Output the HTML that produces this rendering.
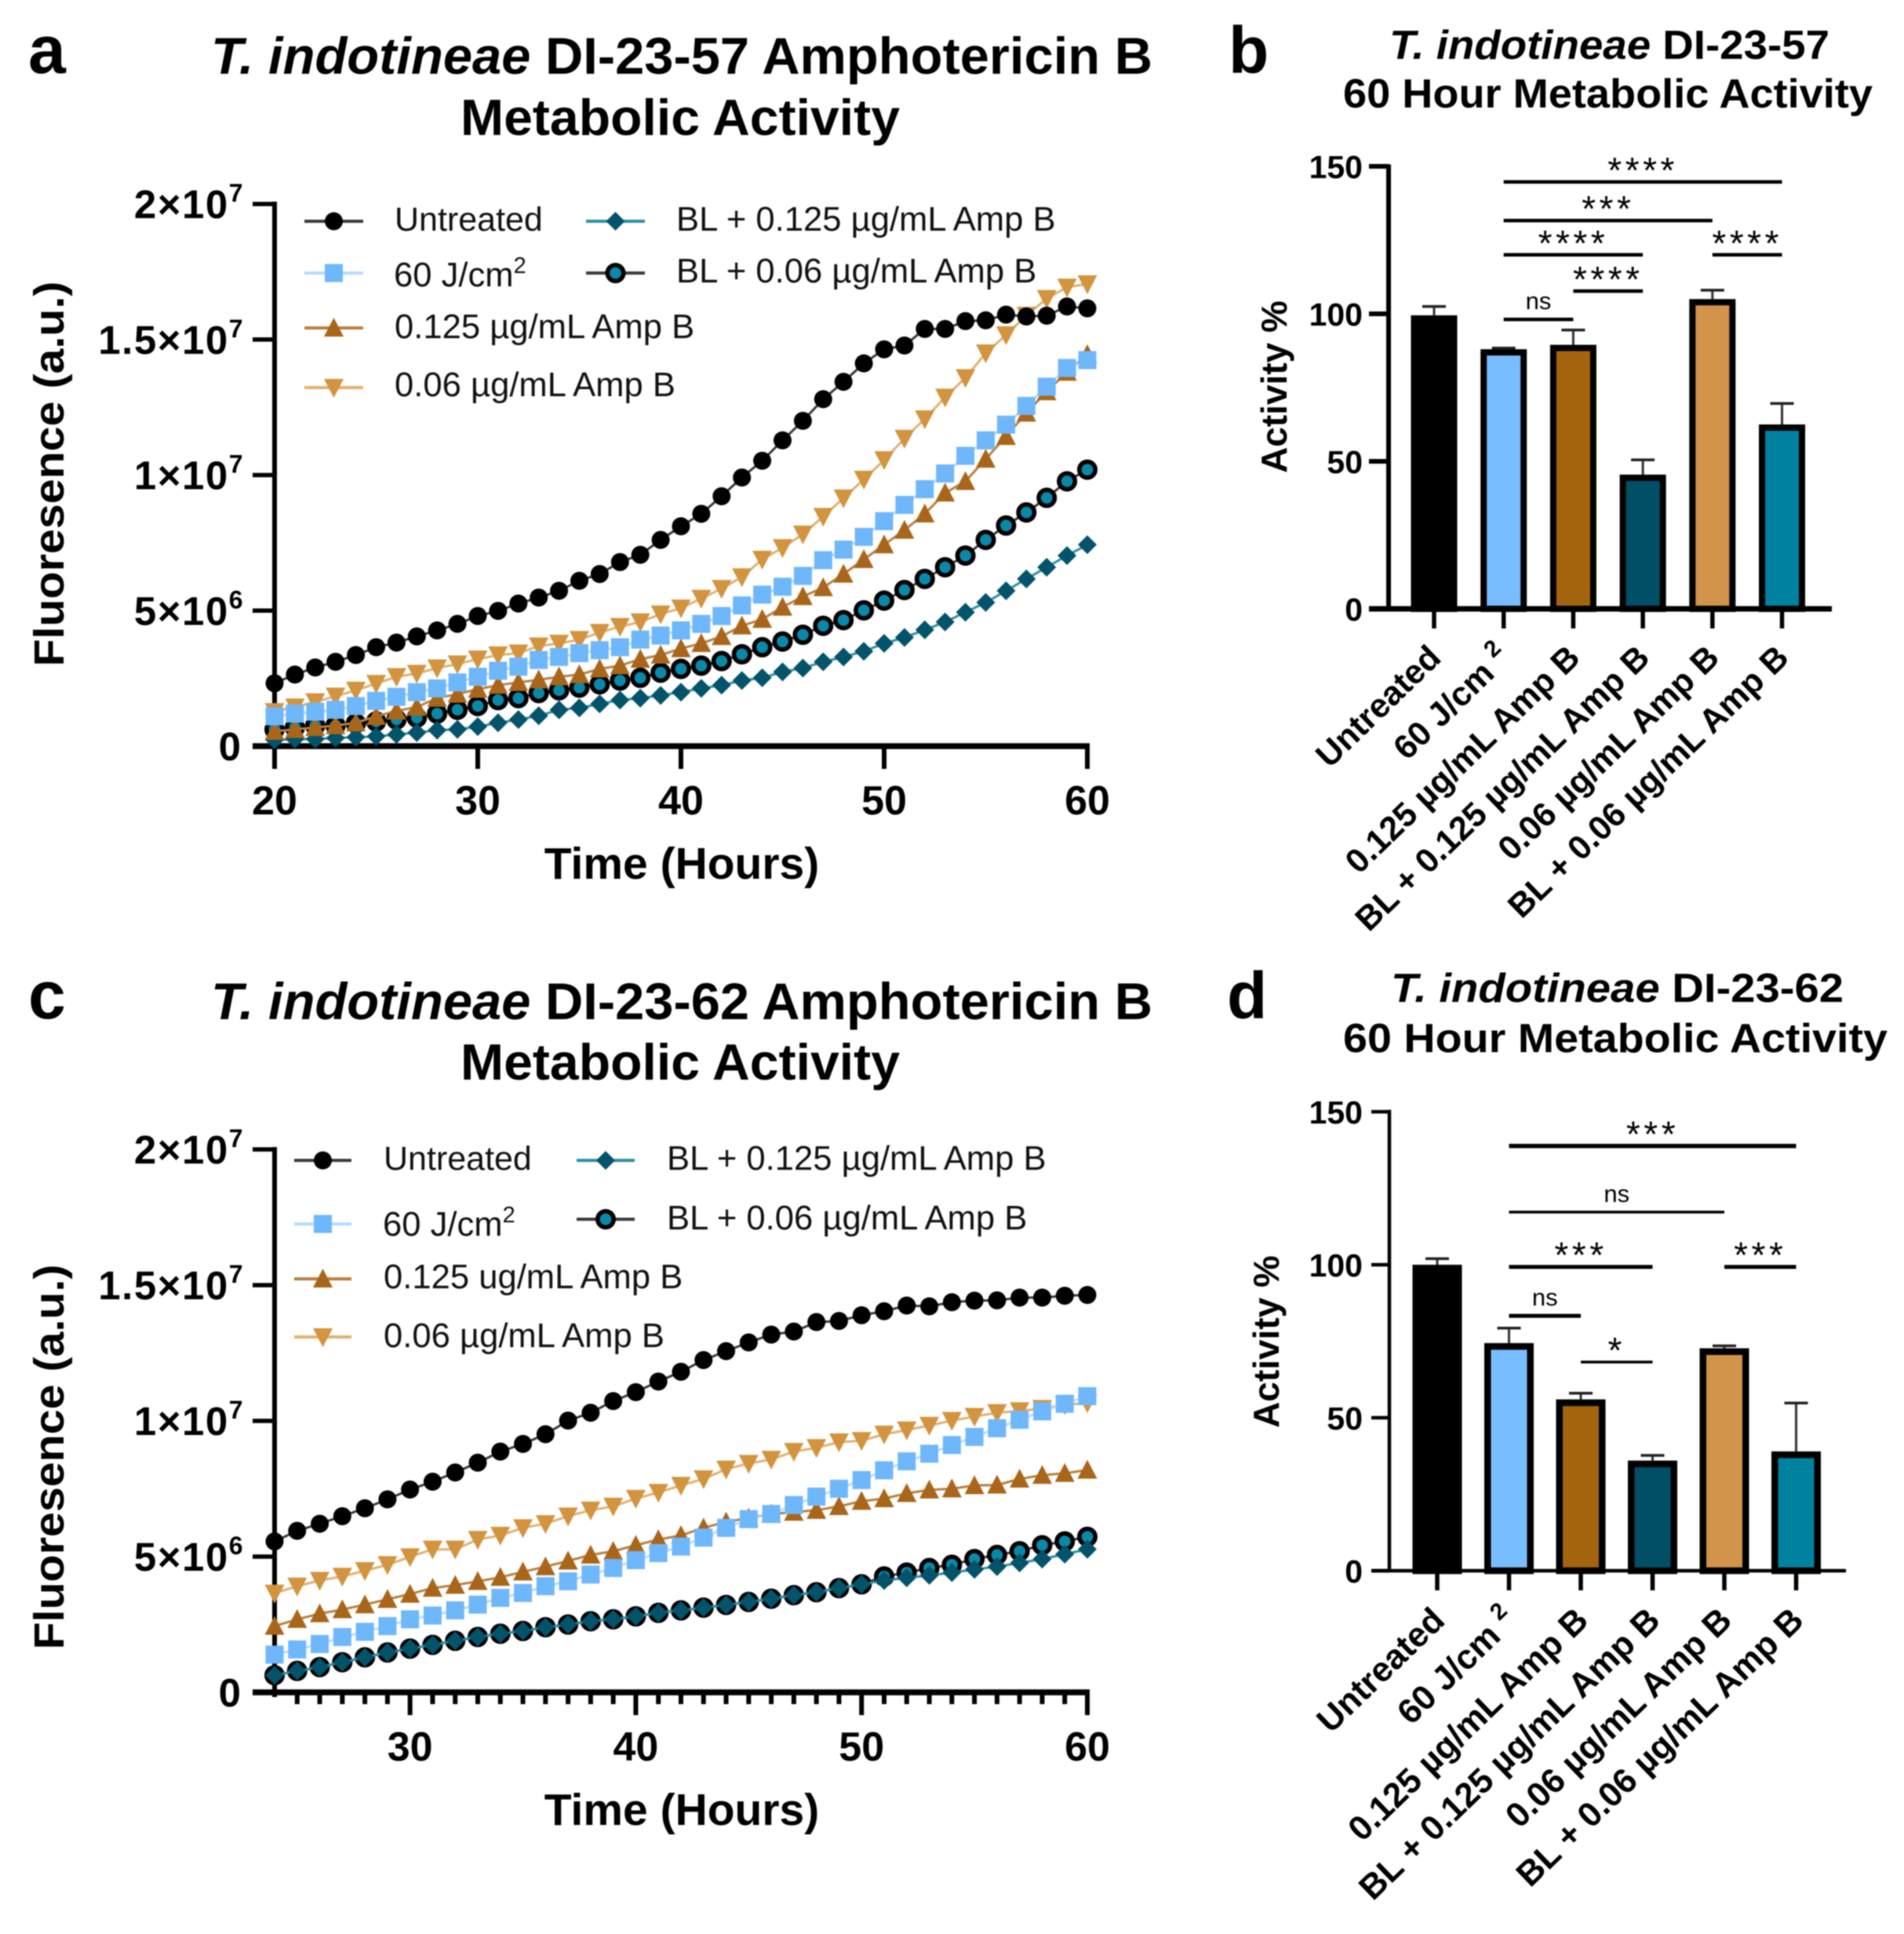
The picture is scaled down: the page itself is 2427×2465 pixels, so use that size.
<!DOCTYPE html>
<html lang="en">
<head>
<meta charset="utf-8">
<title>T. indotineae Amphotericin B Metabolic Activity</title>
<style>
html,body{margin:0;padding:0;background:#fff;}
svg{display:block;filter:blur(0.9px);}
text{font-family:"Liberation Sans",Arial,sans-serif;fill:#000;}
.b{font-weight:bold;}
.t{font-weight:bold;}
.leg{font-size:43.6px;fill:#111;}
</style>
</head>
<body>
<svg id="fig" xmlns="http://www.w3.org/2000/svg" width="2427" height="2465" viewBox="0 0 2427 2465">
<rect width="2427" height="2465" fill="#fff"/>

<text class="b" x="36" y="93" font-size="86">a</text>
<text class="b" x="1566" y="93" font-size="84">b</text>
<text class="b" x="36" y="1298" font-size="86">c</text>
<text class="b" x="1564" y="1298" font-size="84">d</text>

<text class="t" x="269" y="94" font-size="66" textLength="1200" lengthAdjust="spacingAndGlyphs"><tspan font-style="italic">T. indotineae</tspan> DI-23-57 Amphotericin B</text>
<text class="t" x="587" y="172" font-size="65" textLength="560" lengthAdjust="spacingAndGlyphs">Metabolic Activity</text>
<text class="t" x="269" y="1299" font-size="66" textLength="1200" lengthAdjust="spacingAndGlyphs"><tspan font-style="italic">T. indotineae</tspan> DI-23-62 Amphotericin B</text>
<text class="t" x="587" y="1376" font-size="65" textLength="560" lengthAdjust="spacingAndGlyphs">Metabolic Activity</text>

<text class="t" x="1771" y="75" font-size="52" textLength="561" lengthAdjust="spacingAndGlyphs"><tspan font-style="italic">T. indotineae</tspan> DI-23-57</text>
<text class="t" x="1712" y="137" font-size="52" textLength="675" lengthAdjust="spacingAndGlyphs">60 Hour Metabolic Activity</text>
<text class="t" x="1773" y="1277" font-size="52" textLength="577" lengthAdjust="spacingAndGlyphs"><tspan font-style="italic">T. indotineae</tspan> DI-23-62</text>
<text class="t" x="1712" y="1341" font-size="52" textLength="694" lengthAdjust="spacingAndGlyphs">60 Hour Metabolic Activity</text>

<text class="b" x="869" y="1120" font-size="57" text-anchor="middle">Time (Hours)</text>
<text class="b" x="869" y="2326" font-size="57" text-anchor="middle">Time (Hours)</text>
<text class="b" font-size="54" text-anchor="middle" textLength="491" lengthAdjust="spacingAndGlyphs" transform="translate(81 604) rotate(-90)">Fluoresence (a.u.)</text>
<text class="b" font-size="54" text-anchor="middle" textLength="491" lengthAdjust="spacingAndGlyphs" transform="translate(81 1857) rotate(-90)">Fluoresence (a.u.)</text>
<text class="b" font-size="46" text-anchor="middle" transform="translate(1640 493) rotate(-90)">Activity %</text>
<text class="b" font-size="46" text-anchor="middle" transform="translate(1630 1710) rotate(-90)">Activity %</text>

<g id="legend-a">
<text class="leg" style="font-size:43px" x="503" y="294">Untreated</text>
<text class="leg" x="502" y="365">60 J/cm<tspan font-size="29" dy="-17">2</tspan></text>
<text class="leg" x="503" y="431">0.125 µg/mL Amp B</text>
<text class="leg" x="503" y="505">0.06 µg/mL Amp B</text>
<text class="leg" x="862" y="294">BL + 0.125 µg/mL Amp B</text>
<text class="leg" x="862" y="360">BL + 0.06 µg/mL Amp B</text>
</g>
<g id="legend-c">
<text class="leg" style="font-size:43px" x="489" y="1491">Untreated</text>
<text class="leg" x="488" y="1575">60 J/cm<tspan font-size="29" dy="-17">2</tspan></text>
<text class="leg" x="489" y="1642">0.125 ug/mL Amp B</text>
<text class="leg" x="489" y="1717">0.06 µg/mL Amp B</text>
<text class="leg" x="850" y="1491">BL + 0.125 µg/mL Amp B</text>
<text class="leg" x="850" y="1567">BL + 0.06 µg/mL Amp B</text>
</g>
</svg>

<script>
// ---------- Panel a data (units of 1e6) ----------
const hoursA = [20,21,22,23,24,25,26,27,28,29,30,31,32,33,34,35,36,37,38,39,40,41,42,43,44,45,46,47,48,49,50,51,52,53,54,55,56,57,58,59,60];
const untreatedA = [2.32,2.64,2.90,3.11,3.36,3.65,3.82,4.05,4.27,4.51,4.80,4.99,5.26,5.48,5.73,6.10,6.35,6.79,7.06,7.61,8.11,8.57,9.22,9.91,10.53,11.28,12.0,12.8,13.44,14.12,14.64,14.78,15.39,15.39,15.68,15.71,15.92,15.85,15.88,16.22,16.15];
const light60A = [1.10,1.20,1.27,1.34,1.48,1.67,1.82,1.99,2.13,2.35,2.56,2.78,2.93,3.18,3.29,3.43,3.54,3.65,3.93,4.08,4.27,4.51,4.80,5.19,5.59,5.88,6.28,6.86,7.25,7.72,8.30,8.90,9.48,10.06,10.71,11.28,11.86,12.55,13.26,13.95,14.24];
const amp0125A = [0.55,0.62,0.69,0.76,0.86,1.10,1.30,1.44,1.77,1.92,2.10,2.25,2.35,2.45,2.56,2.64,2.85,2.97,3.21,3.36,3.60,3.79,4.05,4.44,4.68,5.13,5.52,5.85,6.35,6.89,7.43,7.97,8.57,9.34,9.77,10.59,11.43,12.29,13.08,13.80,14.45];
const amp006A = [1.27,1.44,1.63,1.84,2.06,2.31,2.56,2.68,2.88,3.03,3.21,3.36,3.43,3.69,3.79,3.93,4.19,4.41,4.58,4.87,5.09,5.45,5.81,6.24,6.89,7.32,7.82,8.47,9.15,9.84,10.56,11.35,12.07,12.87,13.59,14.50,15.17,15.89,16.51,16.93,17.05];
const bl0125A = [0.23,0.26,0.26,0.30,0.33,0.36,0.43,0.50,0.59,0.62,0.72,0.86,0.98,1.12,1.34,1.41,1.56,1.70,1.77,1.87,1.99,2.13,2.25,2.42,2.52,2.74,2.88,3.11,3.29,3.50,3.79,4.01,4.29,4.58,4.94,5.30,5.73,6.17,6.60,7.03,7.43];
const bl006A = [0.62,0.69,0.76,0.76,0.84,0.91,0.98,1.05,1.20,1.34,1.48,1.70,1.77,1.96,2.06,2.16,2.28,2.42,2.52,2.71,2.85,2.97,3.14,3.39,3.65,3.86,4.11,4.44,4.65,5.01,5.37,5.76,6.17,6.60,7.03,7.61,8.14,8.62,9.16,9.77,10.20];

// ---------- Panel c data (units of 1e6) ----------
const hoursC = [24,25,26,27,28,29,30,31,32,33,34,35,36,37,38,39,40,41,42,43,44,45,46,47,48,49,50,51,52,53,54,55,56,57,58,59,60];
const untreatedC = [5.56,5.95,6.21,6.49,6.78,7.11,7.47,7.76,8.10,8.46,8.87,9.15,9.51,10.01,10.30,10.73,11.06,11.45,11.81,12.24,12.57,12.89,13.18,13.29,13.64,13.68,13.89,14.04,14.25,14.22,14.37,14.43,14.44,14.54,14.54,14.61,14.64];
const light60C = [1.39,1.58,1.78,2.04,2.23,2.44,2.69,2.83,3.02,3.23,3.48,3.66,3.91,4.09,4.34,4.58,4.87,5.13,5.37,5.70,6.06,6.38,6.57,6.90,7.21,7.50,7.82,8.18,8.51,8.79,9.11,9.41,9.73,10.04,10.35,10.63,10.91];
const amp0125C = [2.44,2.69,2.90,3.05,3.23,3.43,3.62,3.84,3.95,4.09,4.24,4.44,4.63,4.84,5.06,5.20,5.42,5.63,5.78,6.06,6.28,6.42,6.57,6.64,6.71,6.85,7.04,7.14,7.33,7.46,7.50,7.62,7.64,7.86,8.00,8.07,8.19];
const amp006C = [3.65,3.91,4.12,4.27,4.48,4.70,4.99,5.27,5.27,5.63,5.78,6.06,6.21,6.49,6.71,6.85,7.14,7.36,7.62,7.86,8.22,8.43,8.58,8.87,9.01,9.22,9.27,9.51,9.66,9.83,10.01,10.16,10.30,10.37,10.45,10.59,10.66];
const bl0125C = [0.63,0.79,0.93,1.11,1.29,1.47,1.61,1.75,1.90,2.04,2.16,2.26,2.40,2.50,2.62,2.69,2.80,2.93,3.02,3.12,3.22,3.33,3.45,3.58,3.69,3.84,3.98,4.12,4.22,4.31,4.41,4.53,4.63,4.77,4.91,5.09,5.27];
const bl006C = [0.63,0.79,0.93,1.11,1.29,1.47,1.61,1.75,1.90,2.04,2.16,2.26,2.40,2.50,2.62,2.69,2.80,2.93,3.02,3.12,3.22,3.33,3.45,3.58,3.69,3.84,3.98,4.27,4.41,4.58,4.70,4.91,5.06,5.20,5.42,5.56,5.73];

// ---------- Line chart tick labels ----------
const yTickValues = [0,5,10,15,20];
const yTickBase = ['0','5×10','1×10','1.5×10','2×10'];
const yTickExp = ['','6','7','7','7'];
const xTicksA = [20,30,40,50,60];
const xLabelsA = ['20','30','40','50','60'];
const xTicksC = [30,40,50,60];
const xLabelsC = ['30','40','50','60'];
const xMinorC = [24,25,26,27,28,29,31,32,33,34,35,36,37,38,39,41,42,43,44,45,46,47,48,49,51,52,53,54,55,56,57,58,59];

// ---------- Bar chart data ----------
const barCategories = ['Untreated','60 J/cm','0.125 µg/mL Amp B','BL + 0.125 µg/mL Amp B','0.06 µg/mL Amp B','BL + 0.06 µg/mL Amp B'];
const barCategorySup = ['','2','','','',''];
const barTickValues = [0,50,100,150];
const barTickLabels = ['0','50','100','150'];
const meansB = [99.5,88,89.5,45.5,105,62.5];
const errorTopB = [102.5,88.4,94.5,50.5,108,69.6];
const meansD = [100,74.4,56,36,72.7,39];
const errorTopD = [102,79.3,58,37.7,73.5,54.8];
const sigFromB = [1,1,1,4,2,1];
const sigToB = [5,4,3,5,3,2];
const sigLevelB = [144.7,131.6,120,120,107.7,98.1];
const sigTextB = ['****','***','****','****','****','ns'];
const sigFromD = [1,1,1,4,1,2];
const sigToD = [5,4,3,5,2,3];
const sigLevelD = [138.8,117.2,99.3,99.3,83.3,68.2];
const sigTextD = ['***','ns','***','***','ns','*'];
const sigWeightD = [5.5,3.5,5,5,5,3.5];

const NS = 'http://www.w3.org/2000/svg';
const fig = document.getElementById('fig');

function make(parent, tag, name, props) {
  const el = document.createElementNS(NS, tag);
  
  
  for (const k in props) el.setAttribute(k, props[k]);
  parent.appendChild(el);
  return el;
}
function group(parent, name) { return make(parent, 'g', name, {}); }
function lineEl(parent, name, x1, y1, x2, y2, w, c) {
  return make(parent, 'line', name, {x1:x1, y1:y1, x2:x2, y2:y2, stroke:c||'#000', 'stroke-width':w});
}

const STYLES = {
  untreated:{marker:'circle', fill:'#000', line:'#3a3a3a'},
  j60:{marker:'square', fill:'#6fb7fb', line:'#b7dcff'},
  amp0125:{marker:'up', fill:'#a9661a', line:'#b9803f'},
  amp006:{marker:'down', fill:'#d2943f', line:'#e3b071'},
  bl0125:{marker:'diamond', fill:'#03536b', line:'#2f8fa3'},
  bl006:{marker:'ring', fill:'#0a88a8', line:'#3a3a3a'}
};
function marker(parent, name, kind, fill, x, y) {
  if (kind === 'circle') return make(parent, 'circle', name, {cx:x, cy:y, r:11.5, fill:fill});
  if (kind === 'square') return make(parent, 'rect', name, {x:x-11.5, y:y-11.5, width:23, height:23, fill:fill});
  if (kind === 'ring') return make(parent, 'circle', name, {cx:x, cy:y, r:10.2, fill:fill, stroke:'#000', 'stroke-width':5.6});
  let pts;
  if (kind === 'up') pts = [[x,y-13],[x+12.5,y+11],[x-12.5,y+11]];
  if (kind === 'down') pts = [[x,y+13],[x+12.5,y-11],[x-12.5,y-11]];
  if (kind === 'diamond') pts = [[x,y-12],[x+12,y],[x,y+12],[x-12,y]];
  return make(parent, 'polygon', name, {points:pts.map(p => p.join(',')).join(' '), fill:fill});
}
function legendSymbol(parent, key, x1, x2, y) {
  const g = group(parent, 'legend-symbol-' + key);
  const s = STYLES[key];
  lineEl(g, 'legend-line', x1, y, x2, y, 4, s.line);
  marker(g, 'legend-marker', s.marker, s.fill, (x1 + x2) / 2, y);
}

function lineChart(cfg) {
  const root = group(fig, cfg.name);
  const X = v => cfg.x0 + (v - cfg.xMin) * (cfg.x1 - cfg.x0) / (cfg.xMax - cfg.xMin);
  const Y = v => cfg.y0 + v * (cfg.yTop - cfg.y0) / 20;
  const axes = group(root, 'axes');
  lineEl(axes, 'y-axis-line', cfg.x0, cfg.yTop - 3, cfg.x0, cfg.y0 + 3, 6);
  lineEl(axes, 'x-axis-line', 322, cfg.y0, cfg.x1 + 3, cfg.y0, 7.5);
  yTickValues.forEach((v, i) => {
    lineEl(axes, 'y-tick', 322, Y(v), cfg.x0, Y(v), 5.5);
    const t = make(axes, 'text', 'y-tick-label', {x:311, y:Y(v) + 18, 'font-size':51, 'font-weight':'bold', 'text-anchor':'end', 'letter-spacing':i === 0 ? 0 : 1.5});
    t.textContent = yTickBase[i];
    if (yTickExp[i]) {
      const s = make(t, 'tspan', 'y-tick-exponent', {'font-size':32, dy:-21});
      s.textContent = yTickExp[i];
    }
    if (i === 0) t.setAttribute('x', 307);
  });
  cfg.xTicks.forEach((v, i) => {
    lineEl(axes, 'x-tick', X(v), cfg.y0, X(v), cfg.y0 + 29, 6);
    const t = make(axes, 'text', 'x-tick-label', {x:X(v), y:cfg.y0 + 87, 'font-size':52, 'font-weight':'bold', 'text-anchor':'middle'});
    t.textContent = cfg.xLabels[i];
  });
  if (cfg.xTicks === xTicksC) lineEl(axes, 'x-tick', cfg.x0, cfg.y0, cfg.x0, cfg.y0 + 6, 6);
  (cfg.minor || []).forEach(v => {
    if (v === cfg.xMin) return;
    lineEl(axes, 'x-minor-tick', X(v), cfg.y0, X(v), cfg.y0 + 15, 6);
  });
  cfg.series.forEach(s => {
    const st = STYLES[s.key];
    const g = group(root, 'series-' + s.key);
    const pts = cfg.hours.map((h, i) => X(h).toFixed(1) + ',' + Y(s.values[i]).toFixed(1));
    make(g, 'polyline', 'series-line', {points:pts.join(' '), fill:'none', stroke:st.line, 'stroke-width':3});
    cfg.hours.forEach((h, i) => {
      marker(g, 'point', st.marker, st.fill, X(h), Y(s.values[i]));
    });
  });
}

function barChart(cfg) {
  const root = group(fig, cfg.name);
  const X = i => cfg.xFirst + i * cfg.xStep;
  const Y = v => cfg.y0 - v * cfg.yUnit;
  const axes = group(root, 'axes');
  lineEl(axes, 'y-axis-line', cfg.xAxis, Y(150) - 2.5, cfg.xAxis, cfg.y0 + 2, cfg.axisW);
  lineEl(axes, 'x-axis-line', cfg.xLeft, cfg.y0 + cfg.xAxisShift, cfg.xRight, cfg.y0 + cfg.xAxisShift, cfg.xAxisW);
  barTickValues.forEach((v, i) => {
    lineEl(axes, 'y-tick', cfg.xLeft, Y(v), cfg.xAxis, Y(v), cfg.axisW);
    const t = make(axes, 'text', 'y-tick-label', {x:1737, y:Y(v) + 15, 'font-size':41, 'font-weight':'bold', 'text-anchor':'end'});
    t.textContent = barTickLabels[i];
  });
  barCategories.forEach((c, i) => {
    lineEl(axes, 'x-tick', X(i), cfg.y0, X(i), cfg.y0 + 25, 5.5);
    const ax = X(i) + cfg.labelDx, ay = cfg.y0 + cfg.labelDy;
    const t = make(axes, 'text', 'x-category-label', {'font-size':cfg.labelSize, 'font-weight':'bold', 'text-anchor':'end', transform:'rotate(-44 ' + ax + ' ' + ay + ')', x:ax, y:ay});
    t.textContent = c;
    if (barCategorySup[i]) {
      const s = make(t, 'tspan', 'x-category-exponent', {'font-size':30, dx:12, dy:-18});
      s.textContent = barCategorySup[i];
    }
  });
  cfg.colors.forEach((col, i) => {
    const g = group(root, 'bar-' + i);
    const sw = cfg.barStroke;
    const cx = X(i);
    lineEl(g, 'error-stem', cx, Y(cfg.errors[i]), cx, Y(cfg.means[i]), 3, '#333');
    lineEl(g, 'error-cap', cx - 15, Y(cfg.errors[i]), cx + 15, Y(cfg.errors[i]), 3.5, '#222');
    make(g, 'rect', 'bar-rect', {x:cx - cfg.barW / 2 + sw / 2, y:Y(cfg.means[i]) + sw / 2, width:cfg.barW - sw, height:Y(0) - Y(cfg.means[i]) - sw / 2, fill:col, stroke:'#000', 'stroke-width':sw});
  });
  cfg.sigText.forEach((txt, i) => {
    const g = group(root, 'significance-' + i);
    const x1 = X(cfg.sigFrom[i]), x2 = X(cfg.sigTo[i]), y = Y(cfg.sigLevel[i]);
    lineEl(g, 'significance-line', x1, y, x2, y, cfg.sigWeight ? cfg.sigWeight[i] : 4.5);
    const ns = txt === 'ns';
    const t = make(g, 'text', 'significance-label', {x:(x1 + x2) / 2, y:ns ? y - 13 : y + 1, 'font-size':ns ? 31 : 46, 'text-anchor':'middle', 'letter-spacing':ns ? 0 : 4.5, fill:ns ? '#222' : '#000'});
    t.textContent = txt;
  });
}

const seriesA = [
  {key:'bl006', values:bl006A},{key:'bl0125', values:bl0125A},{key:'amp006', values:amp006A},
  {key:'amp0125', values:amp0125A},{key:'j60', values:light60A},{key:'untreated', values:untreatedA}
];
const seriesC = [
  {key:'bl006', values:bl006C},{key:'bl0125', values:bl0125C},{key:'amp006', values:amp006C},
  {key:'amp0125', values:amp0125C},{key:'j60', values:light60C},{key:'untreated', values:untreatedC}
];
lineChart({name:'panel-a-line-chart', x0:350, x1:1386, xMin:20, xMax:60, y0:951, yTop:260, hours:hoursA, series:seriesA, xTicks:xTicksA, xLabels:xLabelsA});
lineChart({name:'panel-c-line-chart', x0:350, x1:1386, xMin:24, xMax:60, y0:2157, yTop:1465, hours:hoursC, series:seriesC, xTicks:xTicksC, xLabels:xLabelsC, minor:xMinorC});

const legA = document.getElementById('legend-a');
legendSymbol(legA, 'untreated', 388, 463, 282);
legendSymbol(legA, 'j60', 388, 463, 348);
legendSymbol(legA, 'amp0125', 388, 463, 418);
legendSymbol(legA, 'amp006', 388, 463, 494);
legendSymbol(legA, 'bl0125', 747, 822, 282);
legendSymbol(legA, 'bl006', 747, 822, 348);
const legC = document.getElementById('legend-c');
legendSymbol(legC, 'untreated', 375, 448, 1479);
legendSymbol(legC, 'j60', 375, 448, 1560);
legendSymbol(legC, 'amp0125', 375, 448, 1630);
legendSymbol(legC, 'amp006', 375, 448, 1704);
legendSymbol(legC, 'bl0125', 735, 809, 1479);
legendSymbol(legC, 'bl006', 735, 809, 1554);
fig.appendChild(legA);
fig.appendChild(legC);

const barColors = ['#000','#78bdff','#a4640e','#004f66','#d2944a','#00819f'];
barChart({name:'panel-b-bar-chart', xFirst:1828, xStep:88.7, y0:776, yUnit:3.76, xAxis:1770, xLeft:1745, xRight:2335, axisW:6, xAxisW:7, xAxisShift:0, barW:59, barStroke:8, labelDx:11, labelDy:65, labelSize:43, colors:barColors, means:meansB, errors:errorTopB, sigFrom:sigFromB, sigTo:sigToB, sigLevel:sigLevelB, sigText:sigTextB});
barChart({name:'panel-d-bar-chart', xFirst:1832, xStep:91.5, y0:2002, yUnit:3.9, xAxis:1771, xLeft:1748, xRight:2353, axisW:4.5, xAxisW:4.5, xAxisShift:0, barW:63, barStroke:8.5, labelDx:12, labelDy:66, labelSize:44, colors:barColors, means:meansD, errors:errorTopD, sigFrom:sigFromD, sigTo:sigToD, sigLevel:sigLevelD, sigText:sigTextD, sigWeight:sigWeightD});
</script>
</body>
</html>
